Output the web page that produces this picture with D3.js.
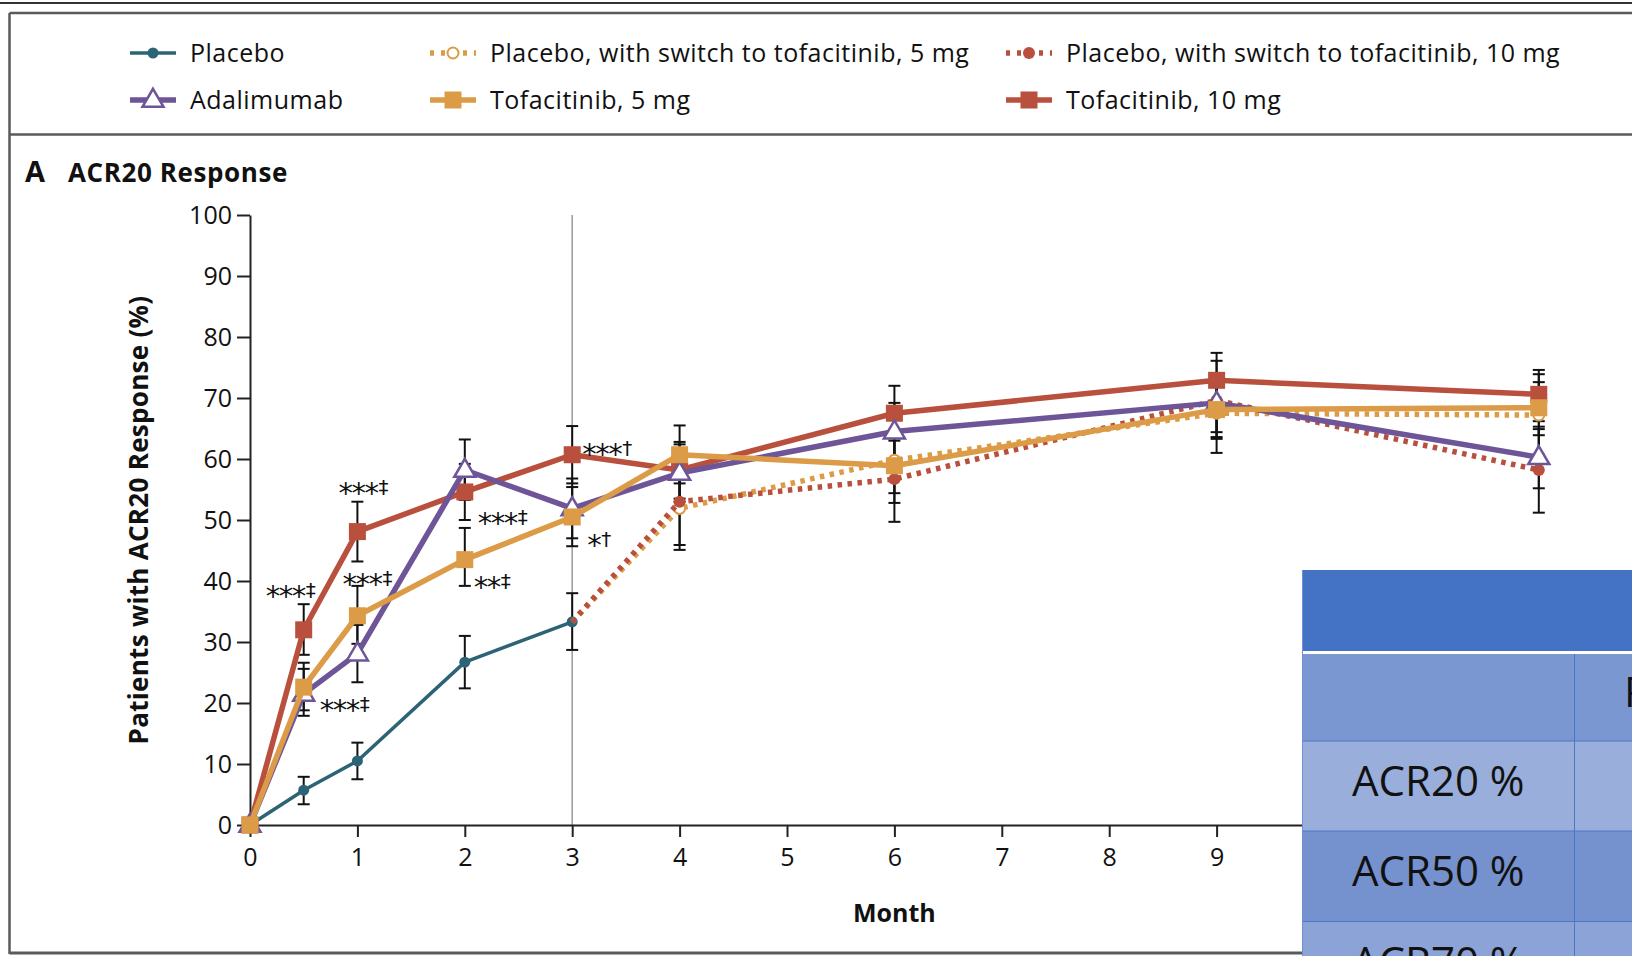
<!DOCTYPE html>
<html>
<head>
<meta charset="utf-8">
<script src="https://cdn.jsdelivr.net/npm/d3@7"></script>
<style>
  body { margin: 0; background: #fff; }
  svg { display: block; }
  text { font-family: "Open Sans", Lato, sans-serif; fill: #111; }
</style>
</head>
<body>
<svg id="chart" width="1632" height="956"></svg>
<script>
// ---- Data: ACR20 response (% of patients) by month, with 95% CI ----
const activeMonths  = [0, 0.5, 1, 2, 3, 4, 6, 9, 12];
const placeboMonths = [0, 0.5, 1, 2, 3];
const switchMonths  = [3, 4, 6, 9, 12];

const placeboVals = [0, 5.7, 10.5, 26.7, 33.3];
const placeboLo   = [null, 3.4, 7.5, 22.4, 28.7];
const placeboHi   = [null, 7.9, 13.5, 31.0, 38.0];

const tofa10Vals = [0, 32.0, 48.1, 54.6, 60.7, 58.2, 67.5, 72.9, 70.6];
const tofa10Lo   = [null, 27.9, 43.2, 50.0, 56.0, 53.5, 63.0, 68.4, 66.2];
const tofa10Hi   = [null, 36.2, 53.0, 59.2, 65.4, 62.8, 72.0, 77.4, 74.6];

const tofa5Vals = [0, 22.6, 34.3, 43.5, 50.5, 60.7, 58.9, 68.1, 68.4];
const tofa5Lo   = [null, 18.8, 29.7, 39.2, 45.7, 56.0, 54.4, 63.6, 63.9];
const tofa5Hi   = [null, 26.6, 39.2, 48.7, 55.4, 65.5, 63.4, 72.6, 72.6];

const adaVals = [0, 21.5, 28.1, 58.2, 51.9, 57.7, 64.5, 69.2, 60.3];
const adaLo   = [null, 17.9, 23.4, 53.3, 47.0, 53.0, 59.8, 64.4, 55.2];
const adaHi   = [null, 25.6, 32.8, 63.2, 56.8, 62.4, 69.2, 74.0, 65.3];

// switch arms start from the placebo value at month 3
const switch5Vals = [33.3, 51.9, 59.8, 67.5, 67.2];
const switch5Lo   = [null, 45.1, 52.8, 61.0, 60.7];
const switch5Hi   = [null, 58.7, 66.8, 74.0, 73.9];

const switch10Vals = [33.3, 53.0, 56.7, 69.6, 58.2];
const switch10Lo   = [null, 45.9, 49.7, 63.3, 51.2];
const switch10Hi   = [null, 60.0, 63.7, 76.1, 64.9];

const yTicks = [0, 10, 20, 30, 40, 50, 60, 70, 80, 90, 100];
const xTicks = [0, 1, 2, 3, 4, 5, 6, 7, 8, 9, 10, 11, 12];

// significance markers: series, month, stars, symbol
const annSeries = ["tofa10", "tofa10", "tofa5", "ada", "tofa10", "tofa5", "tofa10", "tofa5"];
const annMonths = [0.5, 1, 1, 0.5, 2, 2, 3, 3];
const annStars  = ["***", "***", "***", "***", "***", "**", "***", "*"];
const annMarks  = ["‡", "‡", "‡", "‡", "‡", "‡", "†", "†"];

const tableRowLabels = ["", "ACR20 %", "ACR50 %", "ACR70 %"];
const tableColHeader = "Placebo";

// ---- Styles ----
const C = {
  placebo: "#2c6475",
  ada: "#6d5598",
  tofa5: "#dc9b47",
  tofa10: "#b8503d",
  axis: "#222"
};

const series = [
  { key: "placebo", label: "Placebo", months: placeboMonths, vals: placeboVals, lo: placeboLo, hi: placeboHi,
    color: C.placebo, width: 3.5, dash: null, marker: "dot" },
  { key: "switch5", label: "Placebo, with switch to tofacitinib, 5 mg", months: switchMonths, vals: switch5Vals, lo: switch5Lo, hi: switch5Hi,
    color: C.tofa5, width: 5.5, dash: "4.5,5.5", marker: "openCircle", skipFirst: true },
  { key: "switch10", label: "Placebo, with switch to tofacitinib, 10 mg", months: switchMonths, vals: switch10Vals, lo: switch10Lo, hi: switch10Hi,
    color: C.tofa10, width: 5.5, dash: "4.5,5.5", marker: "redDot", skipFirst: true },
  { key: "tofa10", label: "Tofacitinib, 10 mg", months: activeMonths, vals: tofa10Vals, lo: tofa10Lo, hi: tofa10Hi,
    color: C.tofa10, width: 5.5, dash: null, marker: "square" },
  { key: "ada", label: "Adalimumab", months: activeMonths, vals: adaVals, lo: adaLo, hi: adaHi,
    color: C.ada, width: 5.5, dash: null, marker: "triangle" },
  { key: "tofa5", label: "Tofacitinib, 5 mg", months: activeMonths, vals: tofa5Vals, lo: tofa5Lo, hi: tofa5Hi,
    color: C.tofa5, width: 5.5, dash: null, marker: "square" }
];
const byKey = Object.fromEntries(series.map(s => [s.key, s]));

const svg = d3.select("#chart");
svg.append("rect").attr("width", 1632).attr("height", 956).attr("fill", "#fff");

// ---- Scales ----
const x = d3.scaleLinear().domain([0, 12]).range([250, 1538.8]);
const y = d3.scaleLinear().domain([0, 100]).range([825, 215]);

// ---- Frame ----
const frame = svg.append("g").attr("stroke", "#5a5a5a").attr("fill", "none");
frame.append("line").attr("x1", 0).attr("x2", 1632).attr("y1", 3).attr("y2", 3).attr("stroke", "#333").attr("stroke-width", 2);
frame.append("line").attr("x1", 9.5).attr("x2", 1632).attr("y1", 13).attr("y2", 13).attr("stroke-width", 2.5);
frame.append("line").attr("x1", 9.5).attr("x2", 9.5).attr("y1", 13).attr("y2", 954).attr("stroke-width", 2.5);
frame.append("line").attr("x1", 9.5).attr("x2", 1632).attr("y1", 134.5).attr("y2", 134.5).attr("stroke-width", 2.5);
frame.append("line").attr("x1", 9.5).attr("x2", 1632).attr("y1", 953).attr("y2", 953).attr("stroke-width", 3);

// ---- Marker drawing ----
function drawMarker(g, type, color, cx, cy, scale = 1) {
  if (type === "dot") {
    g.append("circle").attr("cx", cx).attr("cy", cy).attr("r", 5.5 * scale).attr("fill", color);
  } else if (type === "redDot") {
    g.append("circle").attr("cx", cx).attr("cy", cy).attr("r", 6 * scale).attr("fill", color);
  } else if (type === "openCircle") {
    g.append("circle").attr("cx", cx).attr("cy", cy).attr("r", 5.5 * scale).attr("fill", "#fff")
      .attr("stroke", color).attr("stroke-width", 2);
  } else if (type === "square") {
    const s = 17 * scale;
    g.append("rect").attr("x", cx - s / 2).attr("y", cy - s / 2).attr("width", s).attr("height", s).attr("fill", color);
  } else if (type === "triangle") {
    const w = 21 * scale, h = 18 * scale;
    g.append("path")
      .attr("d", `M${cx},${cy - h * 0.62}L${cx + w / 2},${cy + h * 0.38}L${cx - w / 2},${cy + h * 0.38}Z`)
      .attr("fill", "#fff").attr("stroke", color).attr("stroke-width", 2.5).attr("stroke-linejoin", "miter");
  }
}

// ---- Legend ----
const legendCols = [130, 430, 1006];
const legendRows = [53, 100];
const legendLayout = [
  ["placebo", 0, 0], ["switch5", 1, 0], ["switch10", 2, 0],
  ["ada", 0, 1], ["tofa5", 1, 1], ["tofa10", 2, 1]
];
const legend = svg.append("g");
legendLayout.forEach(([key, c, r]) => {
  const s = byKey[key];
  const x0 = legendCols[c], cy = legendRows[r];
  const g = legend.append("g");
  g.append("line").attr("x1", x0).attr("x2", x0 + 46).attr("y1", cy).attr("y2", cy)
    .attr("stroke", s.color).attr("stroke-width", s.width)
    .attr("stroke-dasharray", s.dash ? "4,7" : null);
  drawMarker(g, s.marker, s.color, x0 + 23, cy, 1);
  g.append("text").attr("x", x0 + 60).attr("y", cy + 9)
    .attr("font-size", 25).attr("letter-spacing", 0.5).text(s.label);
});

// ---- Panel title ----
svg.append("text").attr("x", 25).attr("y", 182).attr("font-size", 29).attr("font-weight", 700).text("A");
svg.append("text").attr("x", 68).attr("y", 182).attr("font-size", 26).attr("font-weight", 700)
  .attr("letter-spacing", 0.6).text("ACR20 Response");

// ---- Axes ----
const plot = svg.append("g");

// reference line at end of placebo-controlled period
plot.append("line").attr("x1", x(3)).attr("x2", x(3)).attr("y1", y(100)).attr("y2", y(0))
  .attr("stroke", "#9a9a9a").attr("stroke-width", 1.5);

const yAxis = plot.append("g").attr("transform", `translate(${x(0)},0)`)
  .call(d3.axisLeft(y).tickValues(yTicks).tickSize(13).tickSizeOuter(0).tickPadding(5));
const xAxis = plot.append("g").attr("transform", `translate(0,${y(0)})`)
  .call(d3.axisBottom(x).tickValues(xTicks).tickSize(12).tickSizeOuter(0).tickPadding(11));
[yAxis, xAxis].forEach(a => {
  a.select(".domain").attr("stroke", C.axis).attr("stroke-width", 2);
  a.selectAll(".tick line").attr("stroke", C.axis).attr("stroke-width", 2);
  a.selectAll(".tick text").attr("font-size", 25).attr("font-family", "Lato, sans-serif").attr("fill", "#111");
});

svg.append("text")
  .attr("transform", `translate(148,${(y(0) + y(100)) / 2}) rotate(-90)`)
  .attr("text-anchor", "middle").attr("font-size", 26).attr("font-weight", 700)
  .attr("letter-spacing", 0.3)
  .text("Patients with ACR20 Response (%)");
svg.append("text").attr("x", x(6)).attr("y", 922).attr("text-anchor", "middle")
  .attr("font-size", 25).attr("font-weight", 700).text("Month");

// ---- Error bars ----
const eb = plot.append("g").attr("stroke", "#111").attr("stroke-width", 2);
series.forEach(s => {
  s.months.forEach((m, i) => {
    if (s.lo[i] == null) return;
    const cx = x(m);
    eb.append("line").attr("x1", cx).attr("x2", cx).attr("y1", y(s.lo[i])).attr("y2", y(s.hi[i]));
    [s.lo[i], s.hi[i]].forEach(v => {
      eb.append("line").attr("x1", cx - 6).attr("x2", cx + 6).attr("y1", y(v)).attr("y2", y(v));
    });
  });
});

// ---- Lines and markers ----
const line = d3.line().x(d => x(d[0])).y(d => y(d[1]));
series.forEach(s => {
  const g = plot.append("g");
  const pts = s.months.map((m, i) => [m, s.vals[i]]);
  g.append("path").attr("d", line(pts)).attr("fill", "none")
    .attr("stroke", s.color).attr("stroke-width", s.width)
    .attr("stroke-dasharray", s.dash).attr("stroke-linejoin", "round");
  pts.forEach((p, i) => {
    if (s.skipFirst && i === 0) return;
    drawMarker(g, s.marker, s.color, x(p[0]), y(p[1]), 1);
  });
});

// ---- Significance annotations ----
const annOffsets = [[-38, -39], [-19, -44], [-15, -37], [16, 11], [13, 26], [9, 22], [10, -6], [15, 23]];
annSeries.forEach((k, i) => {
  const s = byKey[k];
  const idx = s.months.indexOf(annMonths[i]);
  const px = x(annMonths[i]) + annOffsets[i][0];
  const py = y(s.vals[idx]) + annOffsets[i][1];
  const t = plot.append("text").attr("x", px).attr("y", py + 6);
  t.append("tspan").attr("font-family", "'DejaVu Sans', sans-serif").attr("font-size", 29)
    .attr("dy", 9).attr("letter-spacing", -1.5).text(annStars[i]);
  t.append("tspan").attr("font-family", "'DejaVu Sans', sans-serif").attr("font-size", 20)
    .attr("dy", -9).attr("dx", 1).text(annMarks[i]);
});

// ---- Summary table (overlapping lower right) ----
const tX = 1302, colX = 1574.5;
const rowTops = [654, 741, 831, 921.5, 1010];
const rowFills = ["#7b97d2", "#9aaedb", "#7592cf", "#8ba3d7"];
const table = svg.append("g");
table.append("rect").attr("x", tX).attr("y", 570).attr("width", 1632 - tX).attr("height", 81).attr("fill", "#4472c4");
table.append("rect").attr("x", tX).attr("y", 651).attr("width", 1632 - tX).attr("height", 3).attr("fill", "#fff");
tableRowLabels.forEach((lab, i) => {
  table.append("rect").attr("x", tX).attr("y", rowTops[i]).attr("width", 1632 - tX)
    .attr("height", rowTops[i + 1] - rowTops[i]).attr("fill", rowFills[i]);
  if (i > 0) {
    table.append("line").attr("x1", tX).attr("x2", 1632).attr("y1", rowTops[i]).attr("y2", rowTops[i])
      .attr("stroke", "#4a76c6").attr("stroke-width", 1);
  }
  if (lab) {
    table.append("text").attr("x", (tX + colX) / 2).attr("y", rowTops[i] + 55)
      .attr("text-anchor", "middle").attr("font-size", 42).attr("font-family", "Lato, sans-serif")
      .attr("fill", "#000").text(lab);
  }
});
table.append("line").attr("x1", colX).attr("x2", colX).attr("y1", 654).attr("y2", 956)
  .attr("stroke", "#4a76c6").attr("stroke-width", 1);
table.append("line").attr("x1", tX + 0.5).attr("x2", tX + 0.5).attr("y1", 570).attr("y2", 956)
  .attr("stroke", "#6f8fd0").attr("stroke-width", 1);
table.append("text").attr("x", 1624).attr("y", 707).attr("font-size", 42).attr("font-family", "Lato, sans-serif")
  .attr("fill", "#000").text(tableColHeader);
</script>
</body>
</html>
